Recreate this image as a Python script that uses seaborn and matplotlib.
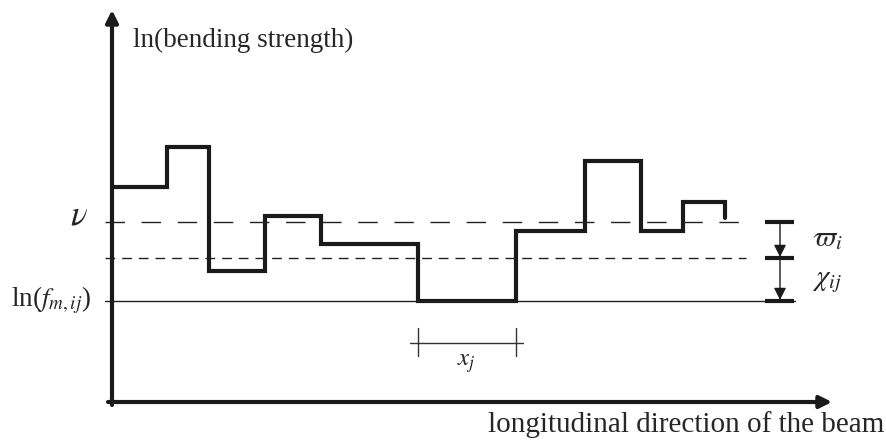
import numpy as np
import matplotlib
matplotlib.use("Agg")
import matplotlib.pyplot as plt
import seaborn as sns

# step profile of ln(bending strength) along the beam (origin at the axis corner)
edges = [0, 55, 97, 153, 209, 306, 404, 473, 529, 571, 613]
levels = [215, 255, 131, 186, 158, 101, 171, 241, 171, 200]
end_drop = 184

# horizontal reference levels
nu_level = 180
mid_level = 144
lnf_level = 101

# length of weakest section x_j
xj_start, xj_end = 306, 404

sns.set_style("white")
plt.rcParams["font.family"] = ["Liberation Serif", "DejaVu Serif"]
plt.rcParams["mathtext.fontset"] = "stix"

fig = plt.figure(figsize=(8.87, 4.43), dpi=100)
ax = fig.add_axes([0, 0, 1, 1])
ax.set_xlim(-112, 775)
ax.set_ylim(-41, 402)
ax.axis("off")

# corner points of the step line
xs = np.repeat(edges, 2)[1:-1].tolist() + [edges[-1]]
ys = np.repeat(levels, 2).tolist() + [end_drop]
sns.lineplot(x=xs, y=ys, sort=False, estimator=None, color="#1a1a1a", lw=3,
             ax=ax, legend=False)
ax.lines[-1].set_solid_joinstyle("miter")

# reference lines
ax.plot([-7, 641], [nu_level] * 2, color="#222222", lw=1, dashes=(14, 12))
ax.plot([-7, 634], [mid_level] * 2, color="#222222", lw=1, dashes=(7, 5))
ax.plot([-7, 683], [lnf_level] * 2, color="#222222", lw=1)

# axes with arrows
ax.annotate("", xy=(0, 392), xytext=(0, -3),
            arrowprops=dict(arrowstyle="-|>", lw=3, color="#1a1a1a",
                            mutation_scale=18, shrinkA=0, shrinkB=0))
ax.annotate("", xy=(720, 0), xytext=(-4, 0),
            arrowprops=dict(arrowstyle="-|>", lw=3, color="#1a1a1a",
                            mutation_scale=18, shrinkA=0, shrinkB=0))

# right-hand dimension bars
for lv in [nu_level, mid_level, lnf_level]:
    ax.plot([653, 682], [lv, lv], color="#1a1a1a", lw=3, solid_capstyle="butt")
for top, bot in [(nu_level, mid_level), (mid_level, lnf_level)]:
    ax.annotate("", xy=(668, bot + 1), xytext=(668, top),
                arrowprops=dict(arrowstyle="-|>", lw=1, color="#1a1a1a",
                                mutation_scale=18, shrinkA=0, shrinkB=0))

# x_j scale bar
ax.plot([298, 411], [59, 59], color="#333333", lw=1)
for xt in [xj_start, xj_end]:
    ax.plot([xt, xt], [46, 74], color="#333333", lw=1)

ax.text(21, 362, "ln(bending strength)", fontsize=19.5, va="center", ha="left")
ax.text(-24, 186, r"$\nu$", fontsize=25, va="center", ha="right")
ax.text(-21, 102, r"ln($f_{m,ij}$)", fontsize=19.5, va="center", ha="right")
ax.text(772, -23, "longitudinal direction of the beam", fontsize=21,
        va="center", ha="right")
ax.text(700, 163, r"$\varpi_i$", fontsize=21, va="center", ha="left")
ax.text(700, 120, r"$\chi_{ij}$", fontsize=21, va="center", ha="left")
ax.text(354, 38, r"$x_j$", fontsize=18, va="center", ha="center")

fig.savefig("out.png", dpi=100)
